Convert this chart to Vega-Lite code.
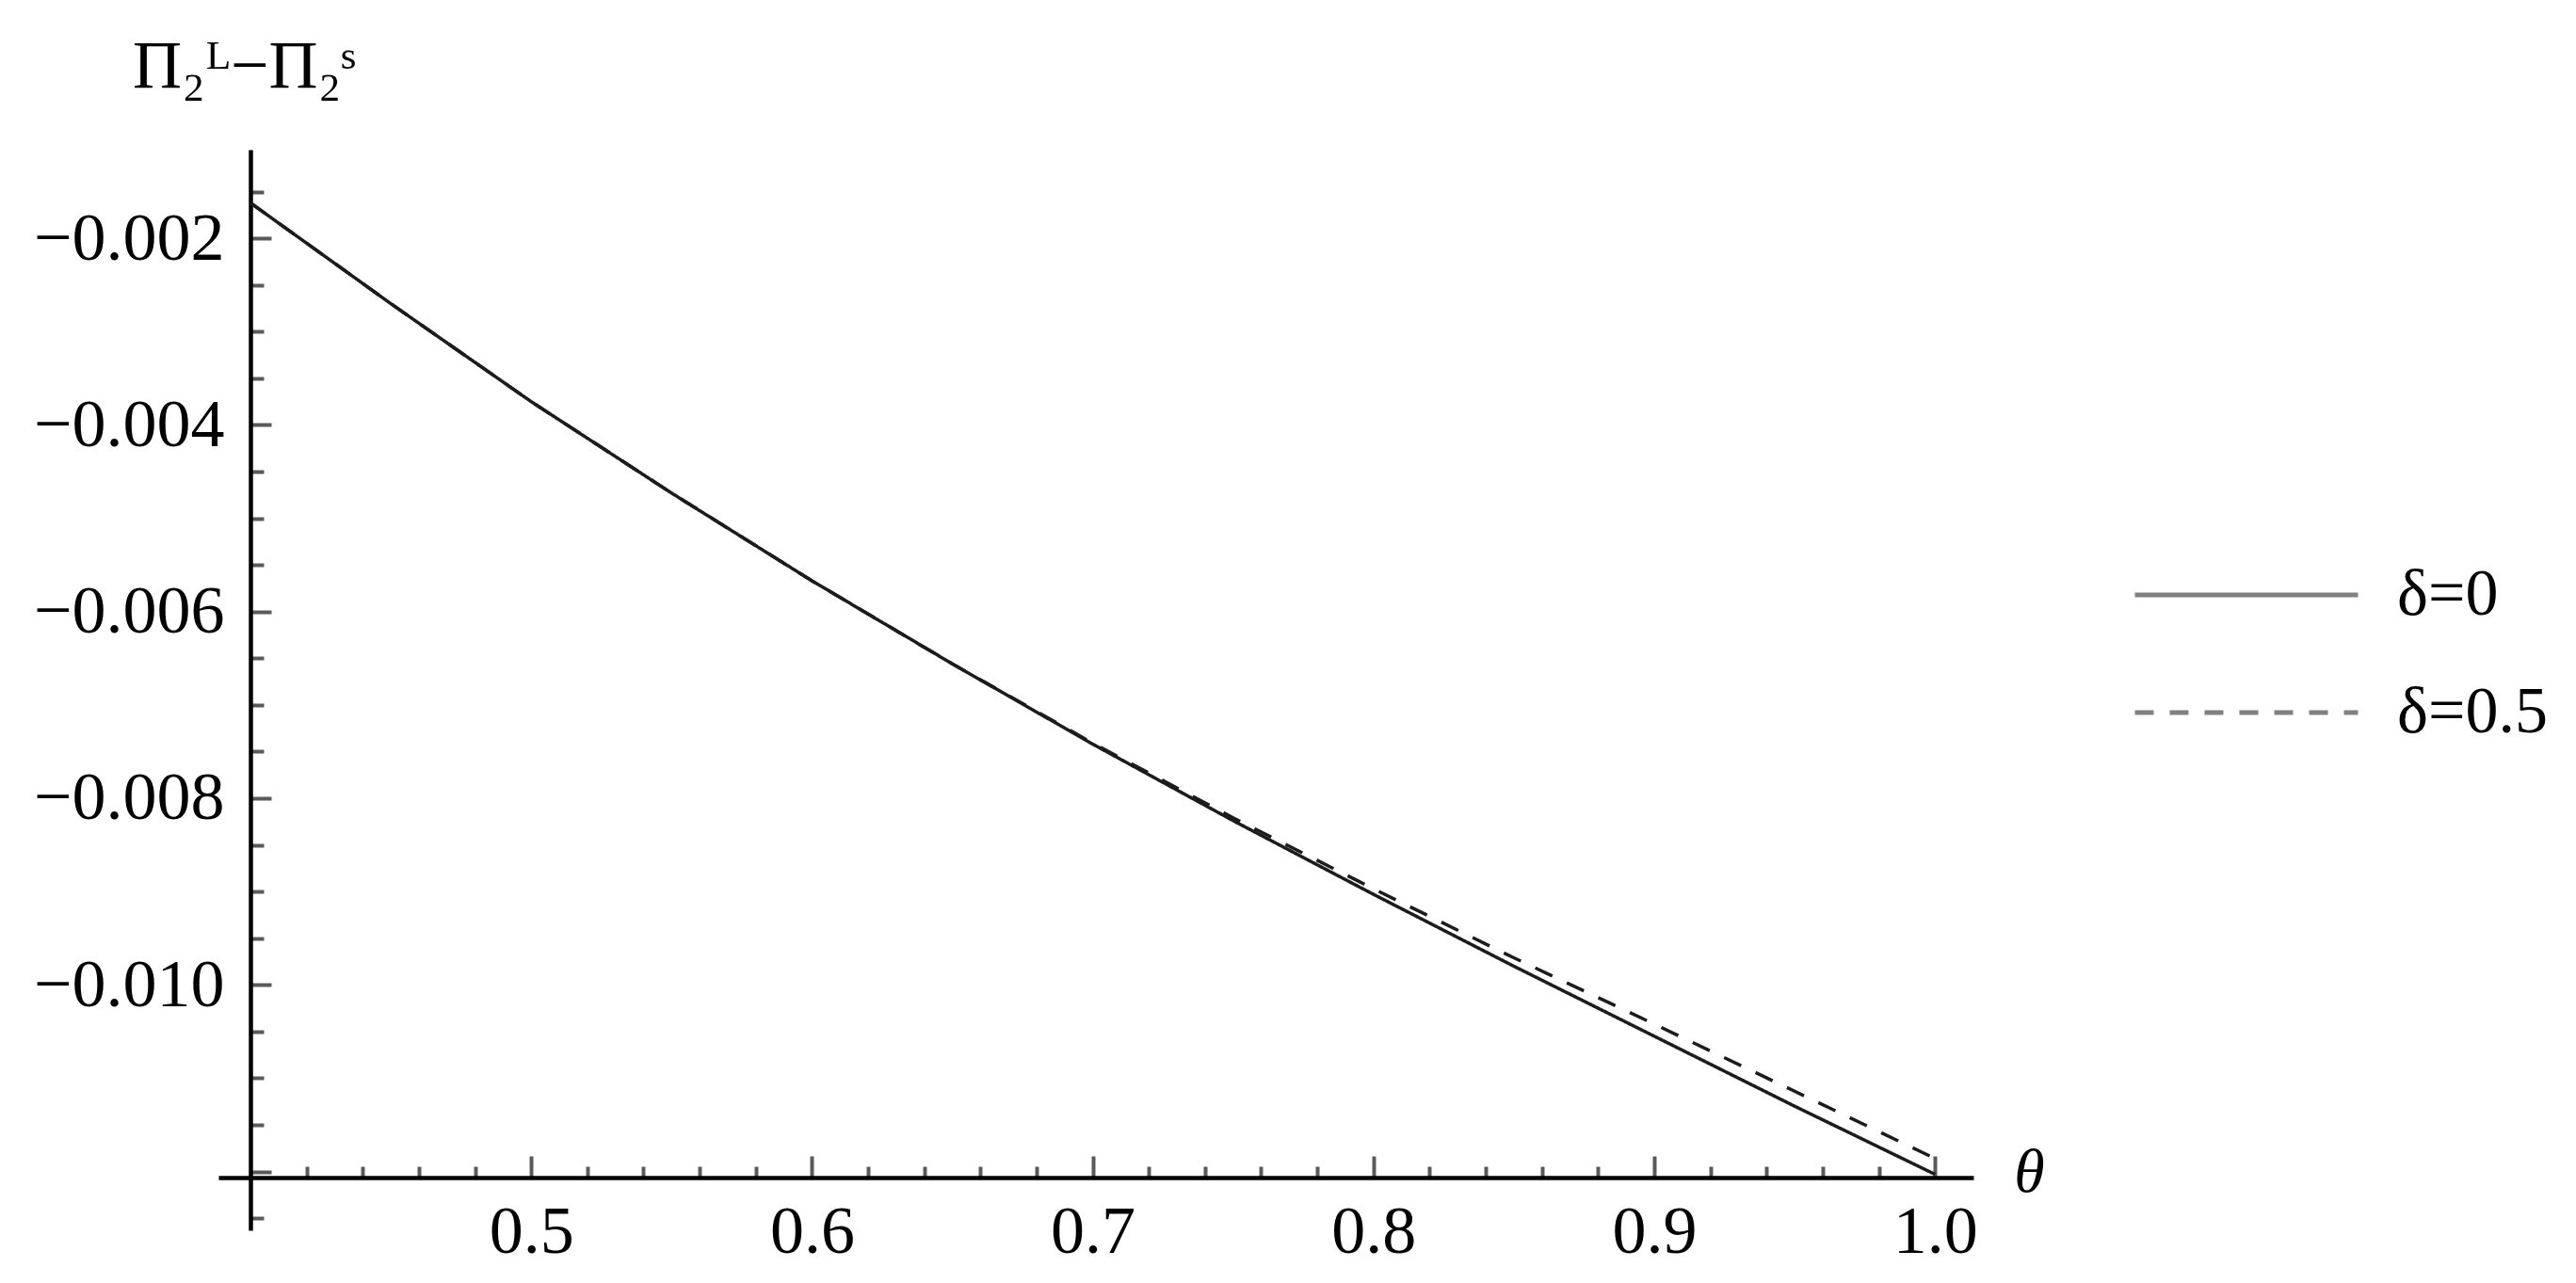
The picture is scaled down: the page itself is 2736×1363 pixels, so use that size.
{
  "$schema": "https://vega.github.io/schema/vega-lite/v6.json",
  "width": 1864,
  "height": 1148,
  "autosize": {"type": "none"},
  "padding": {"left": 232, "top": 159, "right": 640, "bottom": 56},
  "background": "white",
  "config": {"view": {"stroke": null}, "font": "Liberation Serif"},
  "data": {
    "values": [
      {"theta": 0.40, "diff": -0.00162, "series": "δ=0"},
      {"theta": 0.45, "diff": -0.00270, "series": "δ=0"},
      {"theta": 0.50, "diff": -0.00375, "series": "δ=0"},
      {"theta": 0.55, "diff": -0.00473, "series": "δ=0"},
      {"theta": 0.60, "diff": -0.00567, "series": "δ=0"},
      {"theta": 0.65, "diff": -0.00656, "series": "δ=0"},
      {"theta": 0.70, "diff": -0.00742, "series": "δ=0"},
      {"theta": 0.75, "diff": -0.00824, "series": "δ=0"},
      {"theta": 0.80, "diff": -0.00903, "series": "δ=0"},
      {"theta": 0.85, "diff": -0.00980, "series": "δ=0"},
      {"theta": 0.90, "diff": -0.01055, "series": "δ=0"},
      {"theta": 0.95, "diff": -0.01130, "series": "δ=0"},
      {"theta": 1.00, "diff": -0.01203, "series": "δ=0"},
      {"theta": 0.40, "diff": -0.00162, "series": "δ=0.5"},
      {"theta": 0.45, "diff": -0.00270, "series": "δ=0.5"},
      {"theta": 0.50, "diff": -0.00375, "series": "δ=0.5"},
      {"theta": 0.55, "diff": -0.00473, "series": "δ=0.5"},
      {"theta": 0.60, "diff": -0.00567, "series": "δ=0.5"},
      {"theta": 0.65, "diff": -0.00656, "series": "δ=0.5"},
      {"theta": 0.70, "diff": -0.00741, "series": "δ=0.5"},
      {"theta": 0.75, "diff": -0.00821, "series": "δ=0.5"},
      {"theta": 0.80, "diff": -0.00897, "series": "δ=0.5"},
      {"theta": 0.85, "diff": -0.00971, "series": "δ=0.5"},
      {"theta": 0.90, "diff": -0.01042, "series": "δ=0.5"},
      {"theta": 0.95, "diff": -0.01114, "series": "δ=0.5"},
      {"theta": 1.00, "diff": -0.01186, "series": "δ=0.5"}
    ]
  },
  "mark": {"type": "line", "color": "#1c1c1c", "strokeWidth": 3.5, "clip": true},
  "encoding": {
    "x": {
      "field": "theta",
      "type": "quantitative",
      "scale": {"domain": [0.3886, 1.0137], "nice": false, "zero": false},
      "axis": {
        "values": [0.42, 0.44, 0.46, 0.48, 0.5, 0.52, 0.54, 0.56, 0.58, 0.6, 0.62, 0.64, 0.66, 0.68, 0.7, 0.72, 0.74, 0.76, 0.78, 0.8, 0.82, 0.84, 0.86, 0.88, 0.9, 0.92, 0.94, 0.96, 0.98, 1.0],
        "offset": -56,
        "grid": false,
        "domainColor": "black",
        "domainWidth": 4.5,
        "tickColor": "#5a5a5a",
        "tickWidth": 4,
        "tickSize": {"condition": {"test": "abs(datum.value*10 - round(datum.value*10)) < 0.001", "value": -23}, "value": -12},
        "labelExpr": "abs(datum.value*10 - round(datum.value*10)) < 0.001 ? format(datum.value, '.1f') : ''",
        "labelPadding": 45,
        "labelFontSize": 72,
        "labelFont": "Liberation Serif",
        "labelColor": "black",
        "labelLimit": 0,
        "labelFlush": false,
        "labelOverlap": false,
        "labelBound": false,
        "title": "θ",
        "titleFont": "Liberation Serif",
        "titleFontStyle": "italic",
        "titleFontWeight": "normal",
        "titleFontSize": 66,
        "titleColor": "black",
        "titleX": 1923,
        "titleY": -6,
        "titleAlign": "center",
        "titleBaseline": "middle",
        "titleAngle": 0
      }
    },
    "y": {
      "field": "diff",
      "type": "quantitative",
      "scale": {"domain": [-0.01263, -0.00105], "nice": false, "zero": false},
      "axis": {
        "values": [-0.0015, -0.002, -0.0025, -0.003, -0.0035, -0.004, -0.0045, -0.005, -0.0055, -0.006, -0.0065, -0.007, -0.0075, -0.008, -0.0085, -0.009, -0.0095, -0.01, -0.0105, -0.011, -0.0115, -0.012, -0.0125],
        "offset": -34,
        "grid": false,
        "domainColor": "black",
        "domainWidth": 4.5,
        "tickColor": "#5a5a5a",
        "tickWidth": 4,
        "tickSize": {"condition": {"test": "abs(datum.value*500 - round(datum.value*500)) < 0.001", "value": -22}, "value": -14},
        "labelExpr": "abs(datum.value*500 - round(datum.value*500)) < 0.001 && datum.value > -0.011 ? format(datum.value, '.3f') : ''",
        "labelPadding": 50,
        "labelFontSize": 72,
        "labelFont": "Liberation Serif",
        "labelColor": "black",
        "labelLimit": 0,
        "labelFlush": false,
        "labelOverlap": false,
        "labelBound": false,
        "title": "Π₂ᴸ−Π₂ˢ",
        "titleFont": "Liberation Serif",
        "titleFontWeight": "normal",
        "titleFontSize": 72,
        "titleColor": "black",
        "titleLimit": 0,
        "titleAngle": 0,
        "titleX": -7,
        "titleY": -89,
        "titleAlign": "center",
        "titleBaseline": "middle"
      }
    },
    "strokeDash": {
      "field": "series",
      "type": "nominal",
      "scale": {"domain": ["δ=0", "δ=0.5"], "range": [[1, 0], [20, 17]]},
      "legend": {
        "orient": "none",
        "legendX": 2033,
        "legendY": 438,
        "title": null,
        "padding": 0,
        "symbolType": "stroke",
        "symbolSize": 56169,
        "symbolStrokeWidth": 5,
        "symbolStrokeColor": "#808080",
        "clipHeight": 70,
        "rowPadding": 55,
        "labelFontSize": 70,
        "labelFont": "Liberation Serif",
        "labelColor": "black",
        "labelOffset": 39,
        "labelLimit": 400,
        "encode": {"symbols": {"update": {"stroke": {"value": "#808080"}, "strokeWidth": {"value": 5}}}}
      }
    }
  }
}
